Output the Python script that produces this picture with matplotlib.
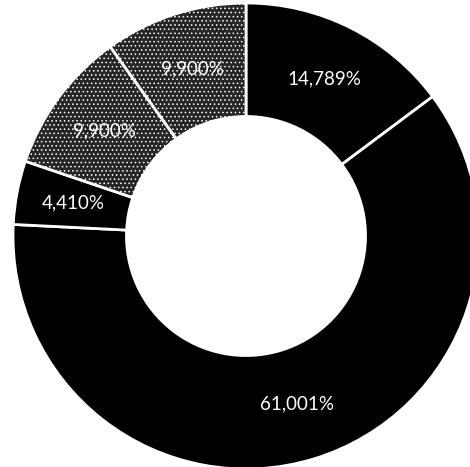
import matplotlib
matplotlib.use("Agg")
import matplotlib.pyplot as plt
import numpy as np

# shares, clockwise from 12 o'clock
shares = [14.789, 61.001, 4.410, 9.900, 9.900]
labels = ["14,789%", "61,001%", "4,410%", "9,900%", "9,900%"]
colors = ["#000000", "#000000", "#000000", "#262626", "#262626"]
hatches = [None, None, None, "....", "...."]

plt.rcParams["hatch.color"] = "#8a8a8a"
plt.rcParams["hatch.linewidth"] = 0.6

fig = plt.figure(figsize=(4.70, 4.67), dpi=100)
ax = fig.add_axes([0, 0, 1, 1])

wedges, _ = ax.pie(shares, colors=colors, startangle=90, counterclock=False,
                   radius=1.0, wedgeprops=dict(width=0.487, edgecolor="white", linewidth=2))
for w, h in zip(wedges, hatches):
    if h:
        w.set_hatch(h)

# labels in the middle of the ring
for w, lab in zip(wedges, labels):
    ang = np.deg2rad((w.theta1 + w.theta2) / 2)
    r = 0.755
    ax.text(r * np.cos(ang), r * np.sin(ang), lab, ha="center", va="center", zorder=10,
            color="white", fontsize=13.5, family=["Lato", "DejaVu Sans"])

# centre of the donut sits at (246, 236) px, outer radius 233 px
scale = 233.0
ax.set_xlim(-246 / scale, (470 - 246) / scale)
ax.set_ylim(-(467 - 236) / scale, 236 / scale)
ax.set_aspect("auto")
ax.axis("off")

fig.savefig("out.png", dpi=100, facecolor="white")
